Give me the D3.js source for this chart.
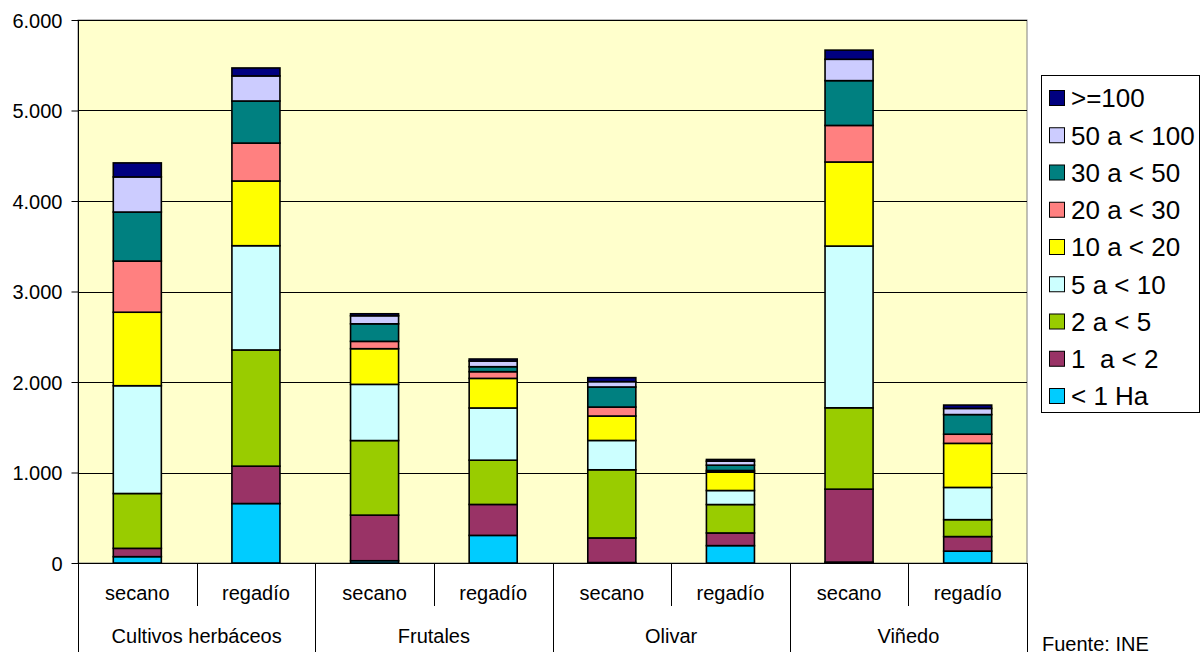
<!DOCTYPE html>
<html>
<head>
<meta charset="utf-8">
<script src="https://cdn.jsdelivr.net/npm/d3@7"></script>
<style>
  html, body { margin: 0; padding: 0; background: #fff; }
  svg { display: block; font-family: "Liberation Sans", Arial, sans-serif; }
  text { white-space: pre; }
</style>
</head>
<body>
<svg id="chart" width="1204" height="654"></svg>
<script>
// ---- data ----
const groups = ["Cultivos herbáceos", "Frutales", "Olivar", "Viñedo"];
const subcats = ["secano", "regadío"];
const seriesNames = ["< 1 Ha", "1  a < 2", "2 a < 5", "5 a < 10", "10 a < 20", "20 a < 30", "30 a < 50", "50 a < 100", ">=100"];
const seriesColors = ["#00CCFF", "#993366", "#99CC00", "#CCFFFF", "#FFFF00", "#FF8080", "#008080", "#CCCCFF", "#000080"];
// values per bar: CH sec, CH reg, Fr sec, Fr reg, Ol sec, Ol reg, Vi sec, Vi reg
const sLess1  = [70, 657, 25, 305, 5, 192, 10, 131];
const s1to2   = [92, 413, 504, 342, 272, 140, 806, 161];
const s2to5   = [606, 1284, 824, 489, 753, 314, 899, 187];
const s5to10  = [1191, 1152, 621, 577, 324, 155, 1787, 356];
const s10to20 = [812, 715, 394, 327, 270, 203, 929, 487];
const s20to30 = [565, 419, 81, 74, 99, 18, 404, 101];
const s30to50 = [542, 465, 194, 55, 222, 59, 495, 217];
const s50to100= [388, 277, 89, 63, 59, 44, 236, 68];
const s100    = [155, 88, 22, 22, 44, 19, 101, 37];
const yTicks = [0, 1000, 2000, 3000, 4000, 5000, 6000];
const sourceNote = "Fuente: INE";

const seriesValues = [sLess1, s1to2, s2to5, s5to10, s10to20, s20to30, s30to50, s50to100, s100];

// ---- build table ----
const barKeys = [];
groups.forEach((g) => subcats.forEach((s) => barKeys.push(g + "|" + s)));
const rows = barKeys.map((k, i) => {
  const r = { key: k };
  seriesNames.forEach((n, j) => r[n] = seriesValues[j][i]);
  return r;
});
const stacked = d3.stack().keys(seriesNames)(rows);

// ---- layout ----
const svg = d3.select("#chart");
const plot = { left: 78, right: 1027, top: 20, bottom: 563 };

const x = d3.scaleBand().domain(barKeys).range([plot.left, plot.right])
  .paddingInner(0.595).paddingOuter(0.2975);
const xBand = d3.scaleBand().domain(barKeys).range([plot.left, plot.right]).padding(0);
const y = d3.scaleLinear().domain([0, 6000]).range([plot.bottom, plot.top]);
const color = d3.scaleOrdinal().domain(seriesNames).range(seriesColors);
const locale = d3.formatLocale({ decimal: ",", thousands: ".", grouping: [3], currency: ["", " €"] });
const fmt = locale.format(",d");

// plot background
svg.append("rect")
  .attr("x", plot.left).attr("y", plot.top)
  .attr("width", plot.right - plot.left).attr("height", plot.bottom - plot.top)
  .attr("fill", "#FFFFCC").attr("stroke", "#808080").attr("stroke-width", 1);

// gridlines
svg.append("g").selectAll("line").data(yTicks.filter(d => d > 0)).join("line")
  .attr("x1", plot.left).attr("x2", plot.right)
  .attr("y1", d => Math.round(y(d)) + 0.5).attr("y2", d => Math.round(y(d)) + 0.5)
  .attr("stroke", "#000").attr("stroke-width", 1);

// y axis
const yAxis = d3.axisLeft(y).tickValues(yTicks).tickFormat(fmt).tickSize(7).tickPadding(9);
const gy = svg.append("g").attr("transform", `translate(${plot.left + 0.5},0)`).call(yAxis);
gy.select(".domain").remove();
gy.selectAll(".tick line").attr("stroke", "#000");
gy.selectAll(".tick text").attr("font-size", 20).attr("fill", "#000")
  .attr("font-family", "'Liberation Sans', Arial, sans-serif")
  .attr("dy", "0.36em");
// y axis line (extends into the category label area)
svg.append("line").attr("x1", plot.left + 0.5).attr("x2", plot.left + 0.5)
  .attr("y1", plot.top).attr("y2", 652).attr("stroke", "#000");

// bars
const gBars = svg.append("g");
stacked.forEach(layer => {
  gBars.append("g").selectAll("rect").data(layer).join("rect")
    .attr("x", d => x(d.data.key))
    .attr("width", x.bandwidth())
    .attr("y", d => y(d[1]))
    .attr("height", d => Math.max(0, y(d[0]) - y(d[1])))
    .attr("fill", color(layer.key))
    .attr("stroke", "#000").attr("stroke-width", 1.6);
});

// x axis line
svg.append("line").attr("x1", plot.left).attr("x2", plot.right)
  .attr("y1", plot.bottom + 0.5).attr("y2", plot.bottom + 0.5).attr("stroke", "#000");

// category separators
barKeys.forEach((k, i) => {
  if (i === 0) return;
  const xx = Math.round(xBand(k)) + 0.5;
  const isGroup = i % subcats.length === 0;
  svg.append("line").attr("x1", xx).attr("x2", xx)
    .attr("y1", plot.bottom).attr("y2", isGroup ? 652 : 606)
    .attr("stroke", "#000");
});
// right end line
svg.append("line").attr("x1", plot.right + 0.5).attr("x2", plot.right + 0.5)
  .attr("y1", plot.bottom).attr("y2", 652).attr("stroke", "#000");

// subcategory labels
svg.append("g").selectAll("text").data(barKeys).join("text")
  .attr("x", d => xBand(d) + xBand.bandwidth() / 2)
  .attr("y", 600)
  .attr("text-anchor", "middle").attr("font-size", 20).attr("fill", "#000")
  .text(d => d.split("|")[1]);

// group labels
svg.append("g").selectAll("text").data(groups).join("text")
  .attr("x", g => {
    const a = xBand(g + "|" + subcats[0]);
    const b = xBand(g + "|" + subcats[subcats.length - 1]) + xBand.bandwidth();
    return (a + b) / 2;
  })
  .attr("y", 643)
  .attr("text-anchor", "middle").attr("font-size", 20).attr("fill", "#000")
  .text(g => g);

// legend
const legend = { x: 1041.5, y: 75.5, w: 158, h: 337 };
svg.append("rect").attr("x", legend.x).attr("y", legend.y)
  .attr("width", legend.w).attr("height", legend.h)
  .attr("fill", "#fff").attr("stroke", "#000").attr("stroke-width", 1);
const legendItems = seriesNames.slice().reverse();
const lg = svg.append("g").selectAll("g").data(legendItems).join("g")
  .attr("transform", (d, i) => `translate(0,${98 + i * 37.25})`);
lg.append("rect").attr("x", 1049.5).attr("y", -7.5).attr("width", 15).attr("height", 15)
  .attr("fill", d => color(d)).attr("stroke", "#000").attr("stroke-width", 1);
lg.append("text").attr("x", 1071).attr("y", 0).attr("dy", "0.36em")
  .attr("font-size", 26).attr("fill", "#000").text(d => d);

// source note
svg.append("text").attr("x", 1042).attr("y", 651).attr("font-size", 20).attr("fill", "#000")
  .text(sourceNote);
</script>
</body>
</html>
